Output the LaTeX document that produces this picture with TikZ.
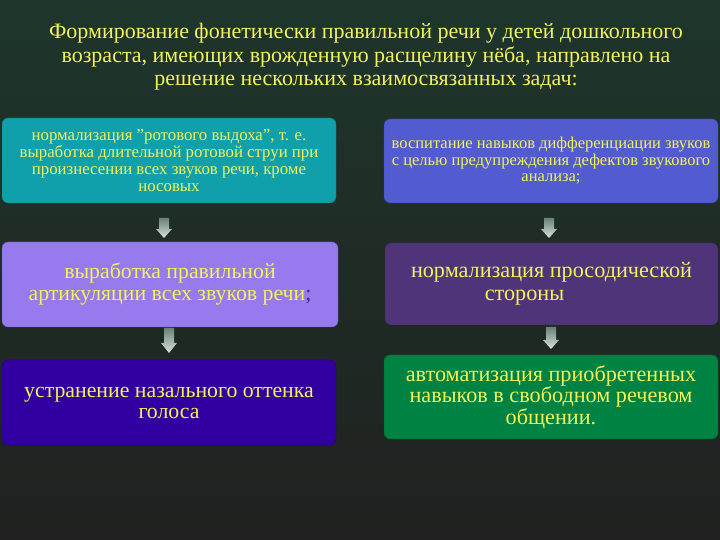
\documentclass[tikz,border=0pt]{standalone}
\usepackage{fontspec}
\setmainfont{Liberation Serif}
\definecolor{bgtop}{RGB}{30,54,43}
\definecolor{bgbot}{RGB}{32,33,32}
\definecolor{txtyel}{RGB}{242,242,90}
\definecolor{cteal}{RGB}{16,160,172}
\definecolor{cblue}{RGB}{82,92,208}
\definecolor{clilac}{RGB}{150,122,238}
\definecolor{cindigo}{RGB}{50,0,160}
\definecolor{cplum}{RGB}{80,52,122}
\definecolor{cgreen}{RGB}{0,130,66}
\definecolor{semic}{RGB}{60,40,150}
\definecolor{arrtop}{RGB}{105,130,118}
\definecolor{arrbot}{RGB}{215,225,218}
\tikzset{
  taskbox/.style={rounded corners=6pt, inner sep=0pt, align=center, text=txtyel},
  arrfill/.style={top color=arrtop, bottom color=arrbot, draw=none},
}
\begin{document}
\begin{tikzpicture}[x=1pt,y=1pt]
\useasboundingbox (0,0) rectangle (720,540);
\shade[top color=bgtop, bottom color=bgbot] (0,0) rectangle (720,540);

\node[align=center, text=txtyel, font=\fontsize{22}{23.5}\selectfont] (title) at (366,483)
 {Формирование фонетически правильной речи у детей дошкольного\\
  возраста, имеющих врожденную расщелину нёба, направлено на\\
  решение нескольких взаимосвязанных задач:};

\node[taskbox, fill=cteal, draw=cteal!70!black, minimum width=334, minimum height=85,
      font=\fontsize{16.8}{16.8}\selectfont] (b1) at (169,379.5)
 {нормализация "ротового выдоха", т. е.\\
  выработка длительной ротовой струи при\\
  произнесении всех звуков речи, кроме\\
  носовых};

\node[taskbox, fill=cblue, draw=cblue!70!black, minimum width=334, minimum height=84,
      font=\fontsize{16.5}{16.5}\selectfont] (b2) at (551,379)
 {воспитание навыков дифференциации звуков\\
  с целью предупреждения дефектов звукового\\
  анализа;};

\node[taskbox, fill=clilac, draw=clilac!70!black, minimum width=336, minimum height=85,
      font=\fontsize{21.8}{22}\selectfont] (b3) at (170,255.5)
 {выработка правильной\\
  артикуляции всех звуков речи{\color{semic};}};

\node[taskbox, fill=cplum, draw=cplum!70!black, minimum width=333, minimum height=82,
      font=\fontsize{22.2}{23}\selectfont] (b5) at (551.5,256)
 {нормализация просодической\\
  \hspace*{-54pt}стороны};

\node[taskbox, fill=cindigo, draw=cindigo!70!black, minimum width=334, minimum height=85,
      font=\fontsize{21.8}{21}\selectfont] (b4) at (169,137.5)
 {устранение назального оттенка\\
  голоса};

\node[taskbox, fill=cgreen, draw=cgreen!70!black, minimum width=334, minimum height=84,
      font=\fontsize{22.2}{21.5}\selectfont] (b6) at (551,143)
 {автоматизация приобретенных\\
  навыков в свободном речевом\\
  общении.};

\coordinate (a1) at (164,322);
\coordinate (a2) at (549,322);
\coordinate (a3) at (169,212);
\coordinate (a4) at (551,213);
\shade[arrfill] (a1) ++(-5,0) -- ++(10,0) -- ++(0,-11) -- ++(3,0) -- ++(-8,-9) -- ++(-8,9) -- ++(3,0) -- cycle;
\shade[arrfill] (a2) ++(-5,0) -- ++(10,0) -- ++(0,-11) -- ++(3,0) -- ++(-8,-9) -- ++(-8,9) -- ++(3,0) -- cycle;
\shade[arrfill] (a3) ++(-5,0) -- ++(10,0) -- ++(0,-15) -- ++(3,0) -- ++(-8,-10) -- ++(-8,10) -- ++(3,0) -- cycle;
\shade[arrfill] (a4) ++(-5,0) -- ++(10,0) -- ++(0,-13) -- ++(3,0) -- ++(-8,-9) -- ++(-8,9) -- ++(3,0) -- cycle;
\end{tikzpicture}
\end{document}
